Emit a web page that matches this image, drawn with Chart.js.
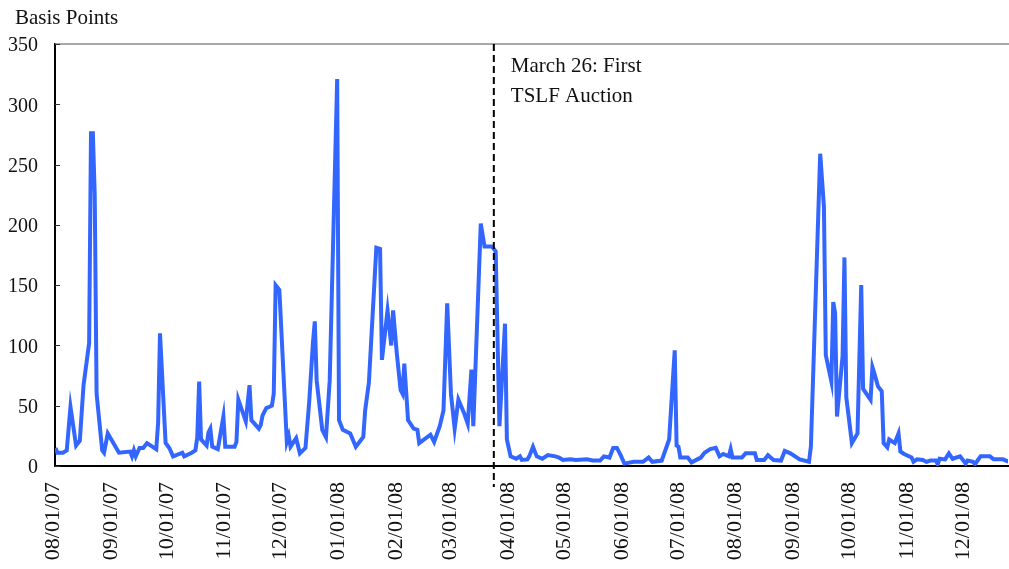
<!DOCTYPE html>
<html>
<head>
<meta charset="utf-8">
<title>Basis Points</title>
<script src="https://cdn.jsdelivr.net/npm/chart.js@4.4.1/dist/chart.umd.min.js"></script>
<style>
  html, body { margin: 0; padding: 0; background: #fff; }
  canvas { display: block; }
</style>
</head>
<body>
<canvas id="chart" width="1009" height="569"></canvas>
<script>
// days after 08/01/07
const spreadDays = [3, 4, 7, 9, 11, 14, 16, 18, 21, 22, 23, 24, 25, 28, 29, 31, 37, 43, 44, 45, 46, 48, 50, 52, 57, 58, 59,
    62, 64, 66, 71, 72, 76, 78, 79, 80, 81, 84, 85, 86, 87, 90, 93, 94, 99, 100, 101, 105, 107, 108, 112, 113, 114, 116,
    119, 120, 121, 123, 127, 128, 129, 132, 134, 137, 139, 141, 142, 143, 146, 148, 150, 154, 155, 157, 161, 164, 168,
    169, 171, 175, 177, 178, 181, 183, 184, 186, 188, 189, 190, 192, 195, 197, 198, 204, 206, 209, 211, 213, 215, 217,
    219, 222, 224, 226, 227, 231, 233, 236, 237, 239, 241, 244, 245, 247, 250, 252, 253, 256, 257, 259, 261, 264, 267,
    271, 273, 275, 279, 282, 288, 291, 295, 297, 300, 302, 304, 306, 308, 313, 318, 321, 323, 328, 332, 335, 336, 337,
    338, 342, 344, 349, 351, 354, 357, 359, 361, 364, 365, 366, 371, 373, 378, 379, 383, 385, 388, 392, 394, 397, 402,
    407, 408, 413, 415, 416, 419, 420, 421, 422, 425, 426, 427, 430, 433, 435, 436, 440, 441, 442, 444, 446, 447, 449,
    450, 453, 455, 456, 458, 462, 463, 465, 468, 470, 472, 475, 476, 477, 480, 482, 484, 488, 491, 492, 495, 496, 499,
    504, 506, 511, 514];

const spreadBp = [15, 11, 11, 13, 49, 17, 21, 67, 102, 276, 276, 225, 60, 13, 11, 27, 11, 12, 8, 13, 8, 15, 15, 19, 14, 36, 110,
    19, 15, 8, 11, 8, 11, 13, 24, 70, 22, 17, 28, 31, 16, 14, 41, 16, 16, 20, 55, 37, 67, 38, 31, 34, 42, 48,
    50, 60, 150, 146, 20, 25, 16, 23, 10.5, 15, 53, 102, 120, 71, 30, 24, 71, 321, 38, 30, 27, 16, 24,
    46, 69, 181, 180, 88, 129, 100, 129, 93, 63, 60, 85, 38, 31, 30, 19, 26, 20, 33, 46, 135, 60, 31,
    55, 44, 35, 80, 33, 201, 182, 182, 182, 178, 33, 118, 22, 8, 6, 8, 5, 5.5, 8, 16, 8, 6, 9,
    8, 7, 5, 5.5, 5, 5.5, 4.5, 4.5, 8, 7, 15, 15, 9, 2, 3.5, 3.5, 7, 3.5, 4.5, 22, 96, 17, 16,
    7, 7, 3, 7, 11, 14, 15, 8, 10, 8, 14, 7, 7, 10.5, 10.5, 5, 5, 9, 5, 4.5, 12.5, 10.5, 5.5,
    3.5, 16, 259, 215, 92, 70, 136, 127, 41, 91, 173, 57, 19, 27, 150, 64, 55, 82, 77, 66, 62, 19, 15.5,
    22, 19, 27, 12, 10, 7, 3.5, 5.5, 5, 3.5, 4.5, 4.5, 1.5, 6, 5.5, 10.5, 6, 8, 2, 4.5, 3.5, 1.5, 8,
    8, 5.5, 5.5, 3.5];

const tickDays = [0, 31, 61, 92, 122, 153, 184, 213, 244, 274, 305, 335, 366, 397, 427, 458, 488];
const tickLabels = ['08/01/07', '09/01/07', '10/01/07', '11/01/07', '12/01/07', '01/01/08', '02/01/08', '03/01/08',
    '04/01/08', '05/01/08', '06/01/08', '07/01/08', '08/01/08', '09/01/08', '10/01/08', '11/01/08', '12/01/08'];

const eventDay = 238; // 03/26/08
const eventText = ['March 26: First', 'TSLF Auction'];
const yTitle = 'Basis Points';

const serif = '"Liberation Serif", "DejaVu Serif", serif';

const extras = {
    id: 'extras',
    afterDraw(chart) {
        const { ctx, chartArea, scales } = chart;
        const x = scales.x, y = scales.y;
        ctx.save();

        // top frame line
        ctx.strokeStyle = '#8a8a8a';
        ctx.lineWidth = 1.5;
        ctx.beginPath();
        ctx.moveTo(chartArea.left, chartArea.top);
        ctx.lineTo(chart.width, chartArea.top);
        ctx.stroke();

        // inward tick marks on the value axis
        ctx.strokeStyle = '#333';
        ctx.lineWidth = 1;
        y.ticks.forEach(t => {
            const py = Math.round(y.getPixelForValue(t.value)) + 0.5;
            ctx.beginPath();
            ctx.moveTo(chartArea.left, py);
            ctx.lineTo(chartArea.left + 5, py);
            ctx.stroke();
        });

        // event line
        const ex = x.getPixelForValue(eventDay);
        ctx.strokeStyle = '#000';
        ctx.lineWidth = 2;
        ctx.setLineDash([7, 4]);
        ctx.beginPath();
        ctx.moveTo(ex, chartArea.top);
        ctx.lineTo(ex, chartArea.bottom + 21);
        ctx.stroke();
        ctx.setLineDash([]);

        ctx.fillStyle = '#111';
        ctx.font = '21px ' + serif;
        ctx.textAlign = 'left';
        ctx.textBaseline = 'alphabetic';
        eventText.forEach((line, i) => ctx.fillText(line, ex + 17, 72 + i * 30));

        ctx.fillText(yTitle, 15, 24);
        ctx.restore();
    }
};

new Chart(document.getElementById('chart'), {
    type: 'line',
    data: {
        datasets: [{
            data: spreadDays.map((d, i) => ({ x: d, y: spreadBp[i] })),
            borderColor: '#3366ff',
            borderWidth: 4,
            pointRadius: 0,
            tension: 0,
            fill: false
        }]
    },
    options: {
        responsive: false,
        animation: false,
        layout: { padding: { top: 44, right: 1, left: 0, bottom: 0 } },
        plugins: {
            legend: { display: false },
            tooltip: { enabled: false }
        },
        scales: {
            x: {
                type: 'linear',
                min: 2.7,
                max: 513.7,
                grid: { display: false },
                border: { color: '#000', width: 2 },
                afterBuildTicks: scale => {
                    scale.ticks = tickDays.map(v => ({ value: v }));
                },
                afterFit: scale => { scale.height = 103; },
                ticks: {
                    autoSkip: false,
                    minRotation: 90,
                    maxRotation: 90,
                    padding: 8,
                    labelOffset: 3,
                    color: '#111',
                    font: { family: serif, size: 22 },
                    callback: (value, index) => tickLabels[index]
                }
            },
            y: {
                min: 0,
                max: 350,
                grid: { display: false },
                border: { color: '#000', width: 2 },
                afterFit: scale => { scale.width = 55; },
                ticks: {
                    stepSize: 50,
                    padding: 9,
                    labelOffset: 2,
                    color: '#111',
                    font: { family: serif, size: 20 }
                }
            }
        }
    },
    plugins: [extras]
});
</script>
</body>
</html>
